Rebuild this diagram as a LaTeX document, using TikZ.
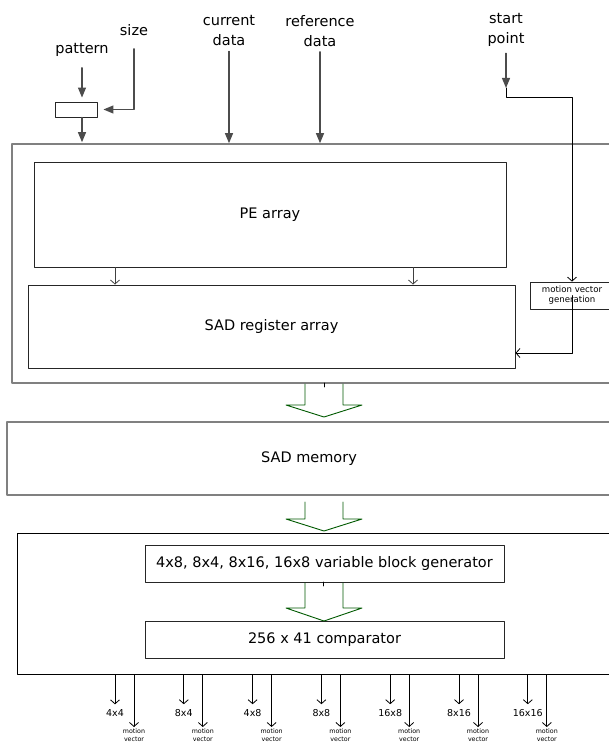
\documentclass[tikz,border=0pt]{standalone}
\usepackage{fontspec}
\setmainfont{DejaVu Sans}
\usetikzlibrary{arrows.meta,positioning}

\begin{document}
\begin{tikzpicture}[x=1pt, y=-1pt, line cap=round, line join=round,
    outer/.style={draw=black!50, line width=1.6pt},
    block/.style={draw=black!85, line width=0.9pt, font=\fontsize{14.5}{18}\selectfont},
    lbl/.style={align=center, font=\fontsize{14.5}{20}\selectfont, inner sep=0pt},
    feed/.style={draw=black!70, line width=1.2pt, -{Triangle[length=10pt,width=8pt]}},
    link/.style={draw=black, line width=0.8pt, -{Straight Barb[length=4pt,width=9pt]}},
    hollow/.style={draw=green!35!black, line width=0.9pt},
    outlbl/.style={font=\fontsize{9.5}{10}\selectfont, inner sep=0pt},
    mvlbl/.style={align=center, font=\fontsize{6.3}{8}\selectfont, inner sep=0pt}]
		\useasboundingbox (0,0) rectangle (609,743);
		\clip (0,0) rectangle (609,743);
		
		% inputs
		\node[lbl] (pattern) at (82,50) {pattern};
		\node[lbl] (size) at (134,30) {size};
		\node[lbl] (cur) at (229,31) {current\\data};
		\node[lbl] (ref) at (320,31) {reference\\data};
		\node[lbl] (start) at (506,29.5) {start\\point};
		\node[draw=black!85, line width=0.9pt, minimum width=42pt, minimum height=15pt] (patbox) at (76,109.5) {};
		
		% search engine
		\node[outer, minimum width=613pt, minimum height=239pt] (engine) at (318.5,263.5) {};
		\node[block, minimum width=472pt, minimum height=105pt] (pe) at (270,214.5) {PE array};
		\node[block, minimum width=487pt, minimum height=83pt] (sadreg) at (271.5,326.5) {SAD register array};
		\node[draw=black!85, line width=0.8pt, minimum width=84pt, minimum height=27pt, align=center,
			font=\fontsize{8.6}{10}\selectfont, inner sep=0pt] (mvgen) at (572,295.5) {motion vector\\generation};
		
		\node[outer, minimum width=604pt, minimum height=73pt, font=\fontsize{14.5}{18}\selectfont] (sadmem) at (309,458.5) {SAD memory};
		
		% decision part
		\node[draw=black, line width=0.9pt, minimum width=597pt, minimum height=141pt] (vbs) at (315.5,603.5) {};
		\node[block, minimum width=359pt, minimum height=37pt] (gen) at (324.5,563.5) {4x8, 8x4, 8x16, 16x8 variable block generator};
		\node[block, minimum width=359pt, minimum height=37pt] (comp) at (324.5,639.5) {256 x 41 comparator};
		
		% input arrows
		\draw[feed, shorten <=11pt, shorten >=4pt] (pattern.south) -- (pattern.south |- patbox.north);
		\draw[feed, shorten <=13pt, shorten >=6pt] (size.south) |- (patbox.east);
		\draw[feed, shorten >=1pt] (pattern.south |- patbox.south) -- (pattern.south |- engine.north);
		\draw[feed, shorten <=5pt] (cur.south) -- (cur.south |- engine.north);
		\draw[feed, shorten <=5pt] (ref.south) -- (ref.south |- engine.north);
		
		\coordinate (turn) at (506,97);
		\coordinate (mvback) at (572,353);
		\draw[feed, shorten <=7pt] (start.south) -- ([yshift=9pt]turn);
		\draw[link] ([yshift=9pt]turn) -- (turn) -| (mvgen.north);
		\draw[link] (mvgen.center) -- (mvback) -- (sadreg.east |- mvback);
		
		\foreach \px in {115,413} {
			\coordinate (c) at (\px,0);
			\draw[link, draw=black!75] (pe.south -| c) -- (sadreg.north -| c);
		}
		
		% wide arrows
		\foreach \t/\n/\p in {384/405/417, 502/519/531, 583/608/621}
			\draw[hollow] (305,\t) -- (305,\n) -- (286,\n) -- (324,\p) -- (362,\n) -- (343,\n) -- (343,\t);
		\draw[line width=0.6pt] (324,383) -- (324,387);
		\draw[line width=0.6pt] (323,582) -- (323,586);
		
		% outputs
		\foreach \blk [count=\i from 0] in {4x4,8x4,4x8,8x8,16x8,8x16,16x16} {
			\node[outlbl] (blk\i) at ({115+68.8*\i},713) {\blk};
			\node[mvlbl, anchor=north] (mv\i) at ({134+68.8*\i},729) {motion\\vector};
			\draw[link, shorten >=5pt] (blk\i.north |- vbs.south) -- (blk\i.north);
			\draw[link, shorten >=2pt] (mv\i.north |- vbs.south) -- (mv\i.north);
		}
	\end{tikzpicture}
\end{document}
